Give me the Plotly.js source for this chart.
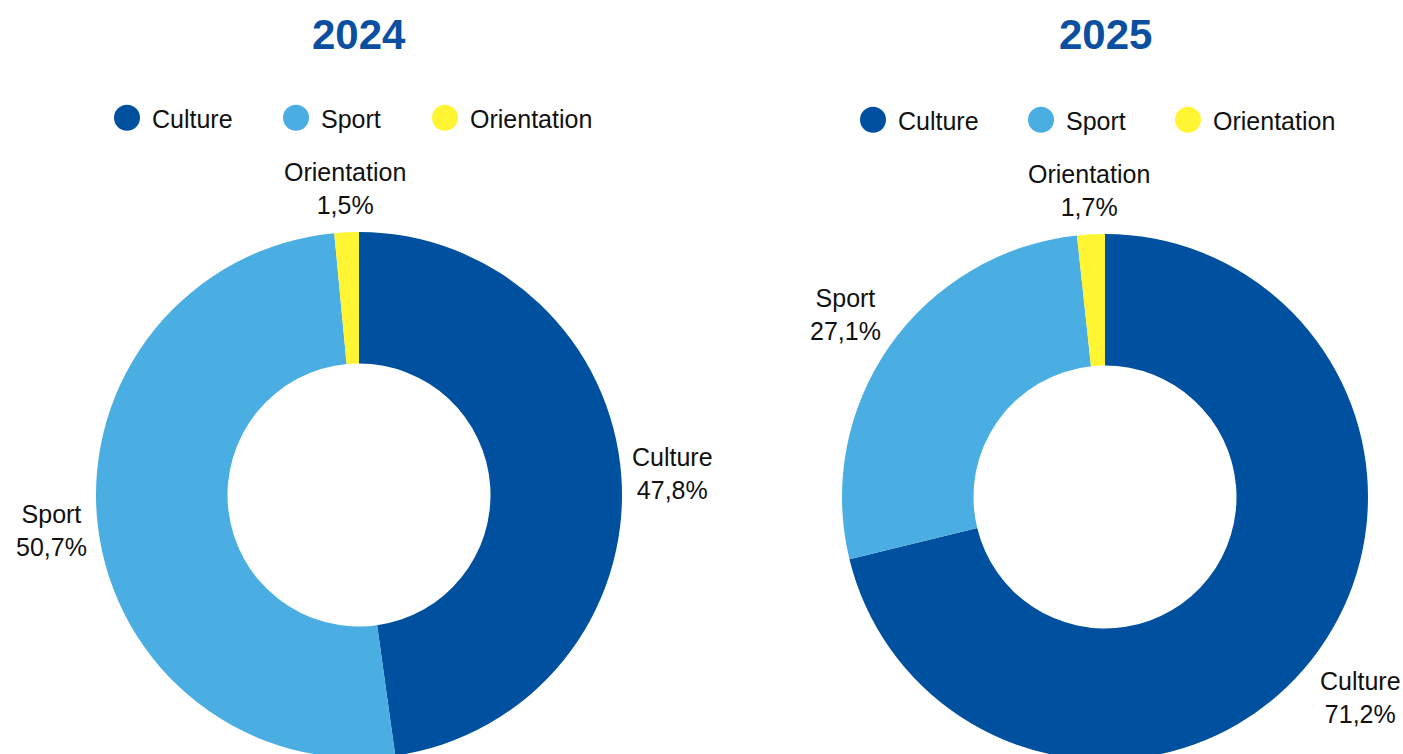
<!DOCTYPE html>
<html><head><meta charset="utf-8">
<script src="https://cdn.plot.ly/plotly-3.0.1.min.js"></script>
<style>html,body{margin:0;padding:0;overflow:hidden;background:#fff}#chart{width:1403px;height:800px}</style>
</head><body><div id="chart"></div>
<script>
const categories = ['Culture', 'Sport', 'Orientation'];
const years = ['2024', '2025'];
const values2024 = [47.8, 50.7, 1.5];
const values2025 = [71.2, 27.1, 1.7];
const colors = ['#0050A0', '#4BAEE3', '#FFF533'];

const W = 1403, H = 800;
const FONT = '"Liberation Sans", Arial, Helvetica, sans-serif';
const FS = 25;
const R = 263;
const centers = [[359, 495], [1105, 497]];
const legendY = [118, 120];
const legendCircleX = [[127, 296, 445], [873, 1041, 1188]];
const titleY = 35;
const labelGap = 11;

const fmt = v => v.toFixed(1).replace('.', ',') + '%';
const ctx = document.createElement('canvas').getContext('2d');
ctx.font = FS + 'px "Liberation Sans", Arial';

function pieTrace(vals, idx) {
  const [cx, cy] = centers[idx];
  return {
    type: 'pie',
    labels: categories,
    values: vals,
    sort: false,
    direction: 'clockwise',
    rotation: 0,
    hole: 0.5,
    marker: {colors: colors, line: {width: 0}},
    textinfo: 'none',
    showlegend: false,
    hoverinfo: 'label+percent',
    domain: {
      x: [(cx - R) / W, (cx + R) / W],
      y: [(H - cy - R) / H, (H - cy + R) / H]
    }
  };
}

// slice labels placed just outside each slice, along its bisector
function sliceLabels(vals, idx) {
  const [cx, cy] = centers[idx];
  const total = vals.reduce((a, b) => a + b, 0);
  let cum = 0;
  return vals.map((v, j) => {
    const th = 2 * Math.PI * (cum + v / 2) / total;
    cum += v;
    const line1 = categories[j], line2 = fmt(v);
    const w = Math.max(ctx.measureText(line1).width, ctx.measureText(line2).width) / 2;
    const h = FS * 1.3;
    const s = Math.abs(Math.sin(th)), c = Math.abs(Math.cos(th));
    const ext = Math.min(s > 1e-6 ? w / s : 1e9, c > 1e-6 ? h / c : 1e9);
    const r = R + labelGap + ext;
    return {
      text: line1 + '<br>' + line2, xref: 'paper', yref: 'paper',
      x: (cx + r * Math.sin(th)) / W, y: 1 - (cy - r * Math.cos(th)) / H,
      xanchor: 'center', yanchor: 'middle', showarrow: false,
      font: {family: FONT, size: FS, color: '#111'}
    };
  });
}

const data = [pieTrace(values2024, 0), pieTrace(values2025, 1)];
const layout = {
  width: W, height: H,
  margin: {l: 0, r: 0, t: 0, b: 0},
  paper_bgcolor: '#fff', plot_bgcolor: '#fff',
  separators: ',.',
  font: {family: FONT, size: FS, color: '#111'},
  xaxis: {visible: false, fixedrange: true, range: [0, 1]},
  yaxis: {visible: false, fixedrange: true, range: [0, 1]},
  annotations: years.map((y, i) => ({
    text: '<b>' + y + '</b>', xref: 'paper', yref: 'paper',
    x: centers[i][0] / W, y: 1 - titleY / H, xanchor: 'center', yanchor: 'middle',
    showarrow: false, font: {family: FONT, size: 42, color: '#0A4FA0'}
  })).concat(sliceLabels(values2024, 0), sliceLabels(values2025, 1))
};

let n = 0;
years.forEach((yr, i) => {
  categories.forEach((c, j) => {
    n++;
    const key = n === 1 ? 'legend' : 'legend' + n;
    data.push({
      type: 'scatter', mode: 'markers', x: [null], y: [null],
      name: c, legend: key, showlegend: true, hoverinfo: 'skip',
      marker: {color: colors[j], size: 16, symbol: 'circle'}
    });
    layout[key] = {
      x: (legendCircleX[i][j] - 25) / W, xanchor: 'left',
      y: 1 - legendY[i] / H, yanchor: 'middle',
      orientation: 'h', itemwidth: 40, borderwidth: 0,
      bgcolor: 'rgba(0,0,0,0)',
      font: {family: FONT, size: FS, color: '#111'},
      itemclick: false, itemdoubleclick: false
    };
  });
});

Plotly.newPlot('chart', data, layout, {displayModeBar: false}).then(() => {
  document.querySelectorAll('.legendpoints path.scatterpts').forEach(p => {
    const t = p.getAttribute('transform') || '';
    if (t.indexOf('scale') < 0) p.setAttribute('transform', t + ' scale(1.625)');
  });
});
</script>
</body></html>
